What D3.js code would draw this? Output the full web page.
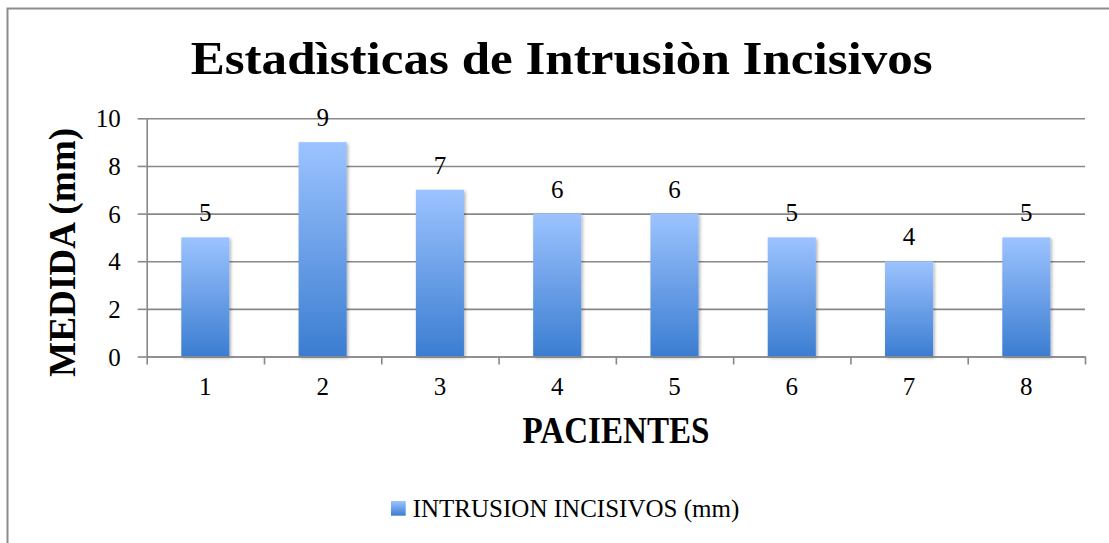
<!DOCTYPE html>
<html>
<head>
<meta charset="utf-8">
<script src="https://cdn.jsdelivr.net/npm/d3@7"></script>
<style>
  body { margin: 0; background: #fff; }
  svg text { font-family: "Liberation Serif", serif; fill: #000; }
</style>
</head>
<body>
<script>
// chart data
const pacientes = ["1", "2", "3", "4", "5", "6", "7", "8"];
const intrusion = [5, 9, 7, 6, 6, 5, 4, 5];
const yTicks = [0, 2, 4, 6, 8, 10];
const titulo = "Estadìsticas de Intrusiòn Incisivos";
const serieNombre = "INTRUSION INCISIVOS (mm)";

const width = 1109, height = 543;
const plot = {left: 146.7, right: 1085, top: 118.3, bottom: 356.5};

let svg = d3.select("body").append("svg")
  .attr("width", width)
  .attr("height", height);

let defs = svg.append("defs");
let grad = defs.append("linearGradient")
  .attr("id", "barGrad")
  .attr("x1", 0).attr("y1", 0).attr("x2", 0).attr("y2", 1);
grad.append("stop").attr("offset", "0%").attr("stop-color", "#9cc3ff");
grad.append("stop").attr("offset", "100%").attr("stop-color", "#3b7dd1");

defs.append("filter").attr("id", "shadow")
  .attr("x", "-20%").attr("y", "-5%").attr("width", "150%").attr("height", "115%")
  .append("feDropShadow")
  .attr("dx", 1.5).attr("dy", 1.5).attr("stdDeviation", 1.5)
  .attr("flood-color", "#000").attr("flood-opacity", 0.3);

// outer frame (right and bottom fall off the picture)
svg.append("rect")
  .attr("x", 7.5).attr("y", 8.5)
  .attr("width", 1120).attr("height", 560)
  .attr("fill", "none").attr("stroke", "#8c8c8c").attr("stroke-width", 2);

let x = d3.scaleBand()
  .domain(pacientes)
  .range([plot.left, plot.right])
  .paddingInner(0.59)
  .paddingOuter(0.295);

let xEdge = d3.scaleLinear()
  .domain([0, pacientes.length])
  .range([plot.left, plot.right]);

let y = d3.scaleLinear()
  .domain([0, 10])
  .range([plot.bottom, plot.top]);

// gridlines
svg.append("g")
  .attr("transform", `translate(${plot.left},0)`)
  .call(d3.axisLeft(y).tickValues(yTicks).tickSize(-(plot.right - plot.left)).tickFormat(""))
  .call(g => g.select(".domain").remove())
  .call(g => g.selectAll("line").attr("stroke", "#888").attr("stroke-width", 1.6));

// y axis
svg.append("g")
  .attr("transform", `translate(${plot.left},0)`)
  .call(d3.axisLeft(y).tickValues(yTicks).tickSize(9).tickPadding(17).tickSizeOuter(0))
  .call(g => g.select(".domain").attr("stroke", "#888").attr("stroke-width", 1.6))
  .call(g => g.selectAll("line").attr("stroke", "#888").attr("stroke-width", 1.6))
  .call(g => g.selectAll("text").attr("font-size", 25).attr("dy", "0.34em"));

// bars
svg.append("g")
  .selectAll("rect")
  .data(intrusion)
  .join("rect")
  .attr("x", (d, i) => x(pacientes[i]))
  .attr("y", d => y(d))
  .attr("width", x.bandwidth())
  .attr("height", d => y(0) - y(d))
  .attr("fill", "url(#barGrad)")
  .attr("filter", "url(#shadow)");

// x axis: boundary ticks
svg.append("g")
  .attr("transform", `translate(0,${plot.bottom})`)
  .call(d3.axisBottom(xEdge).ticks(pacientes.length).tickSize(8).tickFormat("").tickSizeOuter(0))
  .call(g => g.select(".domain").attr("stroke", "#888").attr("stroke-width", 1.6))
  .call(g => g.selectAll("line").attr("stroke", "#888").attr("stroke-width", 1.6));

// x axis labels
svg.append("g")
  .attr("transform", `translate(0,${plot.bottom})`)
  .call(d3.axisBottom(x).tickSize(0).tickPadding(0))
  .call(g => g.select(".domain").remove())
  .call(g => g.selectAll("text").attr("font-size", 25).attr("dy", null).attr("y", 38.5));

// value labels
svg.append("g")
  .selectAll("text")
  .data(intrusion)
  .join("text")
  .attr("x", (d, i) => x(pacientes[i]) + x.bandwidth() / 2)
  .attr("y", d => y(d) - 16)
  .attr("text-anchor", "middle")
  .attr("font-size", 25)
  .text(d => d);

// title
svg.append("text")
  .attr("x", 561.7).attr("y", 74.3)
  .attr("text-anchor", "middle")
  .attr("font-size", 46).attr("font-weight", "bold")
  .attr("textLength", 742).attr("lengthAdjust", "spacingAndGlyphs")
  .text(titulo);

// axis titles
svg.append("text")
  .attr("transform", "translate(75,252.5) rotate(-90)")
  .attr("text-anchor", "middle")
  .attr("font-size", 37).attr("font-weight", "bold")
  .attr("textLength", 249).attr("lengthAdjust", "spacingAndGlyphs")
  .text("MEDIDA (mm)");

svg.append("text")
  .attr("x", 616).attr("y", 443)
  .attr("text-anchor", "middle")
  .attr("font-size", 37).attr("font-weight", "bold")
  .attr("textLength", 187).attr("lengthAdjust", "spacingAndGlyphs")
  .text("PACIENTES");

// legend
let legend = svg.append("g");
legend.append("rect")
  .attr("x", 391).attr("y", 501)
  .attr("width", 14.7).attr("height", 14.7)
  .attr("fill", "url(#barGrad)");
legend.append("text")
  .attr("x", 412.7).attr("y", 516.7)
  .attr("font-size", 26)
  .attr("textLength", 326.6).attr("lengthAdjust", "spacingAndGlyphs")
  .text(serieNombre);
</script>
</body>
</html>
